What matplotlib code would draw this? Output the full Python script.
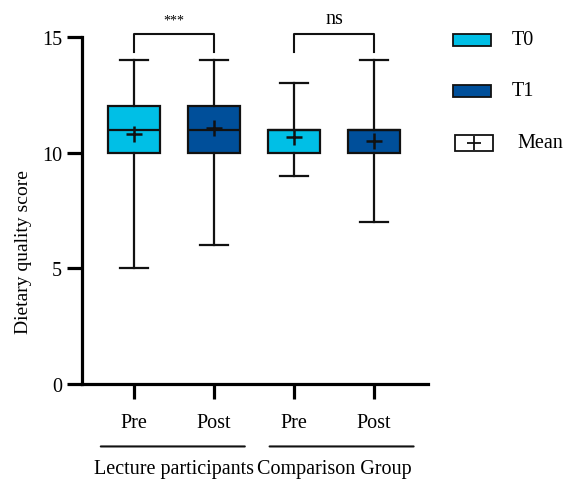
import matplotlib
matplotlib.use("Agg")
import matplotlib.pyplot as plt
from matplotlib.patches import Rectangle
from matplotlib.lines import Line2D

plt.rcParams['font.family'] = ['Liberation Serif', 'DejaVu Serif']

# data
labels = ["Pre", "Post", "Pre", "Post"]
groups = ["Lecture participants", "Comparison Group"]
whislo = [5, 6, 9, 7]
q1 = [10, 10, 10, 10]
med = [11, 11, 11, 11]
q3 = [12, 12, 11, 11]
whishi = [14, 14, 13, 14]
means = [10.8, 11.05, 10.68, 10.52]
sig = ["***", "ns"]

c_t0 = "#00BFE6"
c_t1 = "#004F9A"
colors = [c_t0, c_t1, c_t0, c_t1]

stats = []
for i in range(4):
    stats.append(dict(whislo=whislo[i], q1=q1[i], med=med[i], q3=q3[i],
                      whishi=whishi[i], mean=means[i], fliers=[]))

fig = plt.figure(figsize=(5.64, 4.81), dpi=100)
ax = fig.add_axes([0.1454, 0.1996, 0.6135, 0.7214])

lw = 1.6
bp = ax.bxp(stats, positions=[1, 2, 3, 4], widths=0.65, patch_artist=True,
            showmeans=True,
            boxprops=dict(linewidth=lw, edgecolor="#111111"),
            medianprops=dict(color="#111111", linewidth=lw),
            whiskerprops=dict(color="#111111", linewidth=lw),
            capprops=dict(color="#111111", linewidth=lw),
            meanprops=dict(marker="+", markeredgecolor="#111111",
                           markersize=11, markeredgewidth=1.8),
            capwidths=0.35)
for patch, col in zip(bp["boxes"], colors):
    patch.set_facecolor(col)

ax.set_xlim(0.35, 4.675)
ax.set_ylim(0, 15)
ax.set_yticks([0, 5, 10, 15])
ax.set_xticks([1, 2, 3, 4])
ax.set_xticklabels(labels)
ax.spines["top"].set_visible(False)
ax.spines["right"].set_visible(False)
ax.spines["left"].set_linewidth(2.3)
ax.spines["bottom"].set_linewidth(2.3)
ax.tick_params(axis="both", length=11, width=2.3, labelsize=14.5)
ax.tick_params(axis="x", pad=10)
ax.set_ylabel("Dietary quality score", fontsize=14)
ax.yaxis.set_label_coords(-0.145, 0.383)

# significance brackets
for k, (a, b) in enumerate([(1, 2), (3, 4)]):
    ax.plot([a, a, b, b], [14.35, 15.13, 15.13, 14.35], color="#111111",
            lw=1.5, clip_on=False)
ax.text(1.5, 15.45, sig[0], ha="center", va="bottom", fontsize=10,
        clip_on=False)
ax.text(3.5, 15.4, sig[1], ha="center", va="bottom", fontsize=14.5,
        clip_on=False)

# group lines and labels
for k, (a, b) in enumerate([(0.55, 2.42), (2.66, 4.53)]):
    ax.annotate("", xy=(a, -2.7), xytext=(b, -2.7), xycoords="data",
                arrowprops=dict(arrowstyle="-", lw=1.5, color="#111111"),
                annotation_clip=False)
for k, x in enumerate([1.5, 3.5]):
    ax.text(x, -3.65, groups[k], ha="center", va="center", fontsize=14.5,
            clip_on=False)

# legend
fig.patches.append(Rectangle((453 / 564, 1 - 47 / 481), 38 / 564, 12 / 481,
                             transform=fig.transFigure, facecolor=c_t0,
                             edgecolor="#111111", lw=1.3))
fig.patches.append(Rectangle((453 / 564, 1 - 98 / 481), 38 / 564, 12 / 481,
                             transform=fig.transFigure, facecolor=c_t1,
                             edgecolor="#111111", lw=1.3))
fig.patches.append(Rectangle((455 / 564, 1 - 152 / 481), 38 / 564, 16 / 481,
                             transform=fig.transFigure, facecolor="white",
                             edgecolor="#111111", lw=1.3))
fig.lines.append(Line2D([474 / 564], [1 - 144 / 481], marker="+",
                        markersize=10, markeredgewidth=1.3, color="#111111",
                        transform=fig.transFigure))
fig.text(512 / 564, 1 - 41 / 481, "T0", fontsize=14.5, va="center")
fig.text(512 / 564, 1 - 92 / 481, "T1", fontsize=14.5, va="center")
fig.text(517 / 564, 1 - 144 / 481, "Mean", fontsize=14.5, va="center")

fig.savefig("out.png", dpi=100)
